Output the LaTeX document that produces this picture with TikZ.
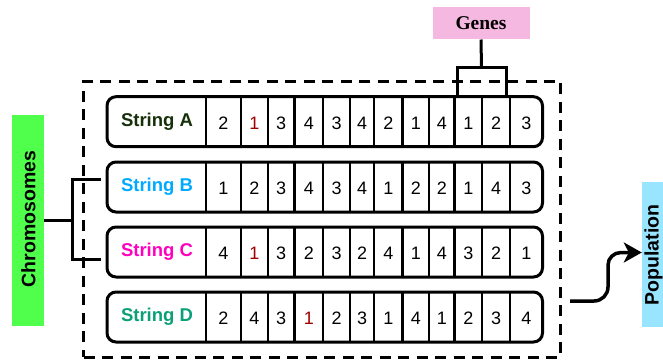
\documentclass[tikz,border=0pt]{standalone}
\usepackage{fontspec}
\setmainfont{Liberation Sans}
\newfontfamily\serifbold{Liberation Serif}
\usetikzlibrary{arrows.meta}
\definecolor{genespink}{RGB}{245,184,225}
\definecolor{chromgreen}{RGB}{80,255,76}
\definecolor{popblue}{RGB}{153,229,255}
\definecolor{colA}{RGB}{22,48,10}
\definecolor{colB}{RGB}{0,170,255}
\definecolor{colC}{RGB}{255,0,190}
\definecolor{colD}{RGB}{10,160,120}
\definecolor{dred}{RGB}{160,0,0}
\tikzset{
  rowbox/.style={draw=black, line width=3pt, rounded corners=9pt, minimum width=435.5pt, minimum height=50pt, inner sep=0pt},
  cellline/.style={draw=black, line width=2.2pt},
  rowlab/.style={font=\fontsize{18.5}{20}\selectfont\bfseries, inner sep=0pt},
  digit/.style={font=\fontsize{18}{20}\selectfont, inner sep=0pt},
  conn/.style={draw=black, line width=3pt},
  dashedbox/.style={draw=black, line width=3pt, dash pattern=on 11pt off 7.5pt, minimum width=477pt, minimum height=276pt, inner sep=0pt},
  arrowconn/.style={draw=black, line width=3.5pt, -{Stealth[length=18pt, width=20pt, inset=5pt]}},
  sidelab/.style={font=\fontsize{19.5}{21}\selectfont\bfseries, inner sep=0pt}
}
\newcommand\chromrow[5]{%
  \node[rowbox] (#1) at (324.75,#2) {};
  \foreach \bx in {206,241,268,294.5,323,350,374,402.5,429,454.5,482,510}
    \draw[cellline] (\bx,#2-25) -- (\bx,#2+25);
  \node[rowlab, text=#4] (#1-lab) at (157,#2) {#3};
  \foreach \d/\c [count=\i] in {#5} {
    \pgfmathparse{{223.5,254.5,281.25,308.75,336.5,362,388.25,415.75,441.75,468.25,496,526.25}[\i-1]}
    \node[digit, text=\c] (#1-d\i) at (\pgfmathresult,#2+1.5) {\d};
  }
}
\begin{document}
\begin{tikzpicture}[x=1pt,y=-1pt]
\path[use as bounding box, clip] (0,0) rectangle (663,360);
\fill[white] (0,0) rectangle (663,360);

% Genes
\node[fill=genespink, minimum width=97pt, minimum height=32.6pt, inner sep=0pt,
      font=\serifbold\fontsize{19.5}{21}\selectfont\bfseries] (genes) at (481,23) {Genes};

% rows
\chromrow{rowA}{121.7}{String A}{colA}{2/black,1/dred,3/black,4/black,3/black,4/black,2/black,1/black,4/black,1/black,2/black,3/black}
\chromrow{rowB}{187}{String B}{colB}{1/black,2/black,3/black,4/black,3/black,4/black,1/black,2/black,2/black,1/black,4/black,3/black}
\chromrow{rowC}{252}{String C}{colC}{4/black,1/dred,3/black,2/black,3/black,2/black,4/black,1/black,4/black,3/black,2/black,1/black}
\chromrow{rowD}{317}{String D}{colD}{2/black,4/black,3/black,1/dred,2/black,3/black,1/black,4/black,1/black,2/black,3/black,4/black}

% genes bracket
\coordinate (gbr) at (481.5,67.7);
\draw[conn] (genes.south) -- (gbr);
\draw[conn] (457,0 |- rowA.north) -- (457,67.7) -- (506,67.7) -- (506,0 |- rowA.north);

% population group
\node[dashedbox] (group) at (322,219) {};

% chromosomes
\node[fill=chromgreen, minimum width=32pt, minimum height=211pt, inner sep=0pt] (chrom) at (28,220.5) {};
\node[sidelab, rotate=90] (chromlab) at (28.5,219) {Chromosomes};
\coordinate (cbr) at (72.5,220);
\coordinate (cbB) at (101,179);
\coordinate (cbC) at (101,259);
\draw[conn] (chrom.east |- cbr) -- (cbr);
\draw[conn] (cbB) -- (72.5,179) -- (72.5,259) -- (cbC);

% population
\node[fill=popblue, minimum width=42pt, minimum height=145pt, inner sep=0pt] (popbox) at (663,254.5) {};
\node[sidelab, rotate=90, anchor=base] (poplab) at (658.5,255) {Population};
\coordinate (arst) at (570,301);
\draw[arrowconn] (arst) -- (594,301) to[out=0,in=-90] (608,287) -- (608,265) to[out=90,in=180] (621,252.5) -- (popbox.west |- 0,252.5);
\end{tikzpicture}
\end{document}
